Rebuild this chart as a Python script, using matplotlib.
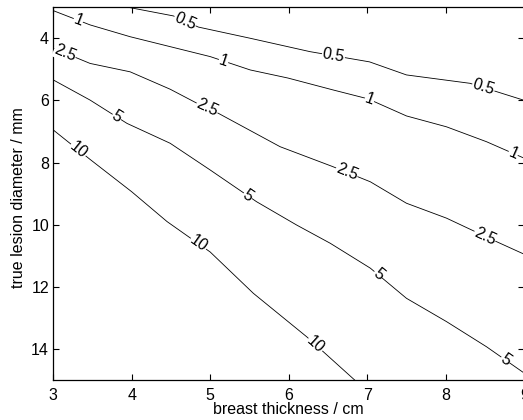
import numpy as np
import matplotlib
matplotlib.use('Agg')
import matplotlib.pyplot as plt

plt.rcParams['font.family'] = ['Liberation Sans', 'DejaVu Sans']

# contour levels and the traced iso-lines (breast thickness cm, lesion diameter mm)
levels = ['0.5', '1', '2.5', '5', '10']

x_05 = [3.95, 4.53, 4.85, 5.51, 6.27, 7.03, 7.50, 8.31, 8.99]
y_05 = [3.00, 3.28, 3.64, 4.00, 4.43, 4.76, 5.18, 5.45, 5.99]

x_1 = [3.00, 3.47, 3.98, 4.49, 5.00, 5.51, 5.99, 6.56, 7.01, 7.50, 8.01, 8.52, 8.99]
y_1 = [3.11, 3.57, 3.95, 4.27, 4.59, 5.02, 5.28, 5.66, 5.95, 6.50, 6.85, 7.33, 7.85]

x_25 = [3.00, 3.47, 3.98, 4.49, 4.83, 5.10, 5.89, 6.56, 7.04, 7.50, 8.01, 8.65, 8.99]
y_25 = [4.32, 4.81, 5.08, 5.64, 6.09, 6.41, 7.49, 8.13, 8.62, 9.31, 9.79, 10.55, 10.94]

x_5 = [3.00, 3.47, 3.94, 4.49, 5.00, 5.59, 6.10, 6.53, 7.04, 7.50, 8.01, 8.52, 8.99]
y_5 = [5.34, 5.99, 6.74, 7.38, 8.24, 9.26, 10.01, 10.60, 11.40, 12.37, 13.12, 13.93, 14.76]

x_10 = [3.00, 3.47, 4.00, 4.45, 5.00, 5.55, 6.23, 6.84]
y_10 = [6.95, 7.90, 8.94, 9.90, 10.88, 12.21, 13.61, 15.00]

lines_x = [x_05, x_1, x_25, x_5, x_10]
lines_y = [y_05, y_1, y_25, y_5, y_10]

# where the inline labels sit along each line (x position)
label_x = [[4.68, 6.57, 8.48],
           [3.32, 5.17, 7.03, 8.86],
           [3.15, 4.96, 6.74, 8.50],
           [3.81, 5.48, 7.14, 8.76],
           [3.32, 4.85, 6.34]]

fs = 11.5

fig = plt.figure(figsize=(5.23, 4.20), dpi=100)
ax = fig.add_axes([53.2 / 523, 1 - 380 / 420, 471 / 523, 372.8 / 420])

for xs, ys in zip(lines_x, lines_y):
    ax.plot(xs, ys, color='black', linewidth=0.6)

ax.set_xlim(3, 9)
ax.set_ylim(15, 3)
ax.set_xticks([3, 4, 5, 6, 7, 8, 9])
ax.set_yticks([4, 6, 8, 10, 12, 14])

for lev, xs, ys, lxs in zip(levels, lines_x, lines_y, label_x):
    for lx in lxs:
        ly = np.interp(lx, xs, ys)
        p0 = ax.transData.transform((lx - 0.12, np.interp(lx - 0.12, xs, ys)))
        p1 = ax.transData.transform((lx + 0.12, np.interp(lx + 0.12, xs, ys)))
        ang = np.degrees(np.arctan2(p1[1] - p0[1], p1[0] - p0[0]))
        ax.text(lx, ly, lev, fontsize=fs, rotation=ang, rotation_mode='anchor',
                ha='center', va='center', zorder=3,
                bbox=dict(facecolor='white', edgecolor='none', pad=0.3))

ax.tick_params(direction='in', top=True, right=True, length=4, width=0.8,
               labelsize=fs)
ax.tick_params(axis='x', pad=6)
ax.tick_params(axis='y', pad=3)
for s in ax.spines.values():
    s.set_linewidth(0.9)

ax.set_xlabel('breast thickness / cm', fontsize=fs)
ax.set_ylabel('true lesion diameter / mm', fontsize=fs)
ax.xaxis.set_label_coords(0.5, -0.058)
ax.yaxis.set_label_coords(-0.057, 0.49)

plt.savefig('out.png', dpi=100)
plt.close()
